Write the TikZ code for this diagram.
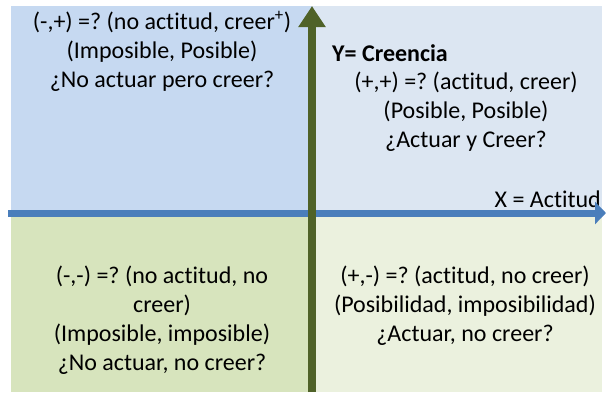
\documentclass[tikz,border=0pt]{standalone}
\usepackage{fontspec}
\setmainfont{Carlito}[RawFeature=-liga]
\frenchspacing
\usetikzlibrary{arrows.meta}
\definecolor{tlfill}{HTML}{C6D9F1}
\definecolor{trfill}{HTML}{DCE6F2}
\definecolor{blfill}{HTML}{D7E4BD}
\definecolor{brfill}{HTML}{EBF1DE}
\definecolor{xaxis}{HTML}{4A7EBB}
\definecolor{yaxis}{HTML}{4F6228}
\tikzset{
  txt/.style={align=center, inner sep=0pt, text=black, font=\fontsize{24}{29}\selectfont},
  xarrow/.style={draw=xaxis, line width=7pt, -{Triangle[length=11pt,width=22pt]}},
  yarrow/.style={draw=yaxis, line width=8pt, -{Triangle[length=21pt,width=26pt]}}
}
\begin{document}
\begin{tikzpicture}[x=1pt,y=-1pt]
\useasboundingbox (0,0) rectangle (606,392);
\fill[tlfill] (11,6) rectangle (312,213);
\fill[trfill] (312,6) rectangle (602,213);
\fill[blfill] (11,213) rectangle (312,392);
\fill[brfill] (312,213) rectangle (602,392);

\node[txt] (tl) at (162,51) {(-,+) =? (no actitud, creer\textsuperscript{+})\\(Imposible, Posible)\\¿No actuar pero creer?};
\node[txt, anchor=west, font=\fontsize{24}{29}\selectfont\bfseries] (ylab) at (332,53) {Y= Creencia};
\node[txt] (tr) at (466,112) {(+,+) =? (actitud, creer)\\(Posible, Posible)\\¿Actuar y Creer?};
\node[txt, anchor=east] (xlab) at (601,199) {X = Actitud};
\node[txt] (bl) at (162,320) {(-,-) =? (no actitud, no\\creer)\\(Imposible, imposible)\\¿No actuar, no creer?};
\node[txt] (br) at (465,306) {(+,-) =? (actitud, no creer)\\(Posibilidad, imposibilidad)\\¿Actuar, no creer?};

\coordinate (xs) at (8,213);
\coordinate (xe) at (606,213);
\coordinate (ys) at (312,392);
\coordinate (ye) at (312,6);
\draw[xarrow] (xs) -- (xe);
\draw[yarrow] (ys) -- (ye);
\end{tikzpicture}
\end{document}
